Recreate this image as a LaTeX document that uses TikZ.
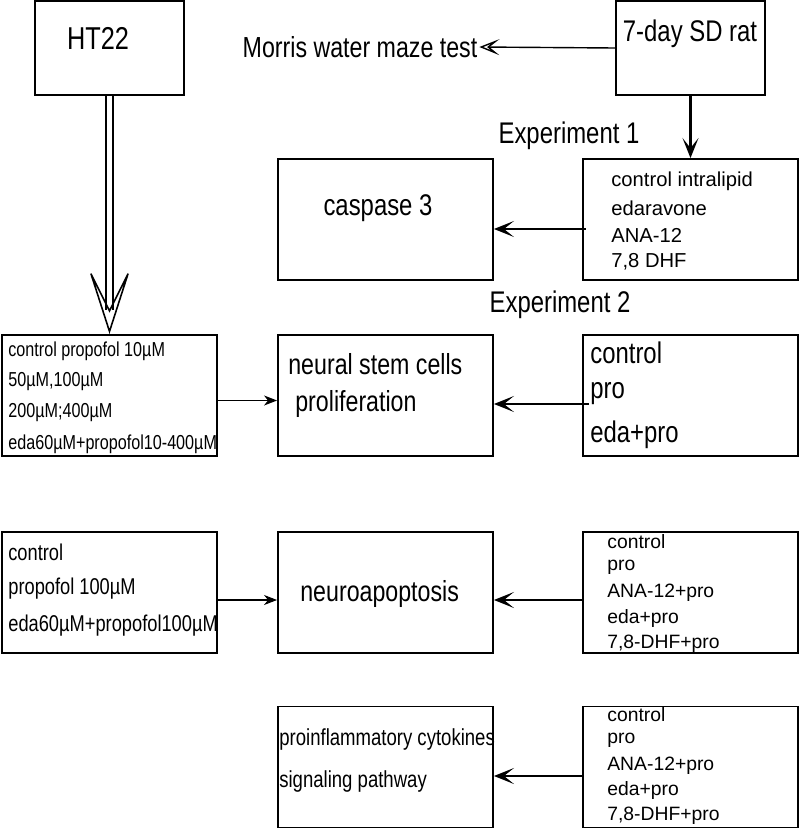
\documentclass[tikz,border=0pt]{standalone}
\usepackage{fontspec}
\setmainfont{Liberation Sans}
\newcommand{\nw}[1]{\scalebox{0.8}[1]{#1}}
\usetikzlibrary{arrows.meta}
\tikzset{
  box/.style={draw, line width=1.1pt, inner sep=0pt},
  wide/.style={box, minimum width=4.3cm, minimum height=2.42cm},
  tall/.style={box, minimum width=2.98cm, minimum height=1.88cm},
  txt/.style={anchor=west, inner sep=0pt},
  heavy/.style={line width=1.6pt, -{Stealth[open, length=4mm, width=3.2mm, inset=2mm]}},
  light/.style={line width=0.6pt, -{Stealth[length=2.6mm, width=2mm, inset=0.8mm]}}
}
\begin{document}
\begin{tikzpicture}[x=0.02cm, y=-0.02cm]
  \useasboundingbox (0,0) rectangle (800,829);

  % Kopfzeile
  \node[tall] (ht) at (109.5,48) {};
  \node[font=\fontsize{18}{20}\selectfont] at (98,38) {\nw{HT22}};
  \node[tall] (rat) at (690.5,48) {};
  \node[font=\fontsize{17}{20}\selectfont] at (690,34) {\nw{7-day SD rat}};
  \node[font=\fontsize{16.5}{20}\selectfont, inner sep=0pt] (morris) at (360,47) {\nw{Morris water maze test}};
  \node[font=\fontsize{17}{19}\selectfont] at (569,136) {\nw{Experiment 1}};
  \node[font=\fontsize{17}{19}\selectfont] at (560,305) {\nw{Experiment 2}};

  % Experiment 1
  \node[wide] (grp1) at (690.5,219.5) {};
  \node[txt, font=\fontsize{11.5}{13}\selectfont] at (611,181) {control intralipid};
  \node[txt, font=\fontsize{11.5}{13}\selectfont] at (611,208) {edaravone};
  \node[txt, font=\fontsize{11.5}{13}\selectfont] at (611,235) {ANA-12};
  \node[txt, font=\fontsize{11.5}{13}\selectfont] at (611,262) {7,8 DHF};
  \node[wide] (casp) at (385.5,219.5) {};
  \node[font=\fontsize{17}{20}\selectfont] at (378,208) {\nw{caspase 3}};

  % Zeile 1
  \node[wide] (left1) at (109.5,395.5) {};
  \foreach \t [count=\i from 0] in {control propofol 10µM, {50µM,100µM}, 200µM;400µM, eda60µM+propofol10-400µM}
    \node[txt, font=\fontsize{11.5}{14}\selectfont] at (8,351+\i*31) {\nw{\t}};
  \node[wide] (nsc) at (385.5,395.5) {};
  \node[txt, font=\fontsize{16.5}{20}\selectfont] at (288,364) {\nw{neural stem cells}};
  \node[txt, font=\fontsize{16.5}{20}\selectfont] at (295,404) {\nw{proliferation}};
  \node[wide] (grp2) at (690.5,395.5) {};
  \foreach \t [count=\i from 0] in {control, pro, eda+pro}
    \node[txt, font=\fontsize{17}{20}\selectfont] at (590,353+\i*41) {\nw{\t}};

  % Zeile 2
  \node[wide] (left2) at (109.5,592.5) {};
  \foreach \t [count=\i from 0] in {control, propofol 100µM, eda60µM+propofol100µM}
    \node[txt, font=\fontsize{13}{16}\selectfont] at (8,552+\i*37) {\nw{\t}};
  \node[wide] (apo) at (385.5,592.5) {};
  \node[txt, font=\fontsize{16.5}{20}\selectfont] at (300,594) {\nw{neuroapoptosis}};
  \node[wide] (grp3) at (690.5,592.5) {};
  \foreach \t [count=\i from 0] in {control, pro, ANA-12+pro, eda+pro, {7,8-DHF+pro}}
    \node[txt, font=\fontsize{11}{13}\selectfont] at (607,542+\i*25.5) {\t};

  % Zeile 3
  \node[wide] (cyto) at (385.5,767) {};
  \node[txt, font=\fontsize{13.2}{16}\selectfont] at (279,739) {\nw{proinflammatory cytokines}};
  \node[txt, font=\fontsize{13.2}{16}\selectfont] at (279,781) {\nw{signaling pathway}};
  \node[wide] (grp4) at (690.5,767) {};
  \foreach \t [count=\i from 0] in {control, pro, ANA-12+pro, eda+pro, {7,8-DHF+pro}}
    \node[txt, font=\fontsize{11}{13}\selectfont] at (607,715+\i*25.3) {\t};

  % Pfeile
  \draw[line width=0.8pt, -{Stealth[open, length=4mm, width=3.2mm, inset=2mm]}] (rat.west) -- ([xshift=1pt]morris.east);
  \draw[heavy] (rat) -- (grp1);
  \draw[heavy] ([xshift=2pt, yshift=-0.19cm]grp1.west) -- ([yshift=-0.19cm]casp.east);
  \draw[line width=0.9pt, double distance=3pt, -{Stealth[open, length=1.4cm, width=0.9cm, inset=0.9cm, line width=0.9pt]}] (ht.south) -- (left1.north);
  \draw[light] ([yshift=-0.1cm]left1.east) -- ([yshift=-0.1cm]nsc.west);
  \draw[heavy] ([xshift=4pt, yshift=-0.17cm]grp2.west) -- ([yshift=-0.17cm]nsc.east);
  \draw[light] ([yshift=-0.15cm]left2.east) -- ([yshift=-0.15cm]apo.west);
  \draw[heavy] ([yshift=-0.15cm]grp3.west) -- ([yshift=-0.15cm]apo.east);
  \draw[heavy] ([yshift=-0.18cm]grp4.west) -- ([yshift=-0.18cm]cyto.east);
\end{tikzpicture}
\end{document}
